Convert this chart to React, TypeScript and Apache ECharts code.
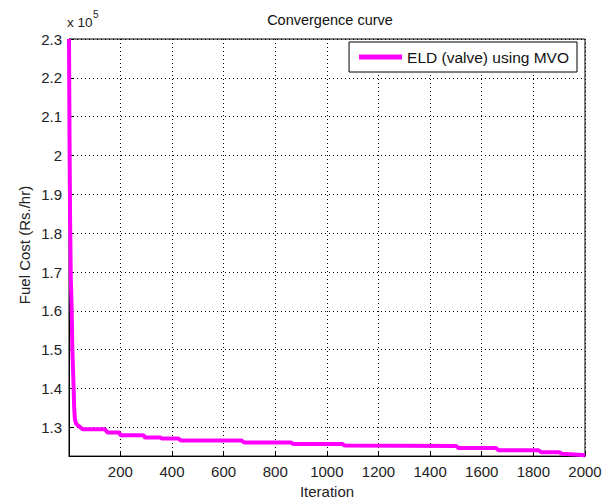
import React, { useEffect, useRef } from "react";
import * as echarts from "echarts";

const iterations = [1, 3, 5, 8, 11, 14, 17, 19, 21, 24, 28, 35, 45, 55, 140, 150, 195, 200, 290, 295, 355, 360, 425, 435, 670, 680, 860, 870, 1060, 1070, 1500, 1510, 1655, 1665, 1820, 1830, 1900, 1910, 1990, 2000];
const fuelCost = [230000, 205000, 185000, 168000, 162000, 150000, 144000, 140000, 135000, 132000, 131000, 130500, 130000, 129500, 129500, 128700, 128700, 128000, 128000, 127400, 127400, 127100, 127100, 126600, 126600, 126100, 126100, 125700, 125700, 125300, 125200, 124700, 124700, 124100, 124100, 123600, 123600, 123200, 122900, 122700];

const xTicks = [200, 400, 600, 800, 1000, 1200, 1400, 1600, 1800, 2000];
const yTicks = [130000, 140000, 150000, 160000, 170000, 180000, 190000, 200000, 210000, 220000, 230000];

const seriesName = "ELD (valve) using MVO";
const titleText = "Convergence curve";
const xName = "Iteration";
const yName = "Fuel Cost (Rs./hr)";
const scaleText = "x 10";
const scaleExp = "5";

const FONT = "'Liberation Sans', Arial, sans-serif";

export default function App() {
  const ref = useRef<HTMLDivElement>(null);
  useEffect(() => {
    if (!ref.current) return;
    const chart = echarts.init(ref.current, undefined, { renderer: "svg" });
    const gridLine = { show: true, lineStyle: { color: "#000", type: [1, 3], width: 1 } };
    const axisLine = { show: true, lineStyle: { color: "#000", width: 1 } };
    const tickX = { show: true, inside: true, length: 5, lineStyle: { color: "#000" }, customValues: xTicks };
    const tickY = { show: true, inside: true, length: 5, lineStyle: { color: "#000" }, customValues: yTicks };
    const label = { color: "#222", fontFamily: FONT, fontSize: 15, hideOverlap: false };
    chart.setOption({
      animation: false,
      backgroundColor: "#fff",
      title: {
        text: titleText,
        left: 325,
        top: 7,
        textAlign: "center",
        textStyle: { fontFamily: FONT, fontSize: 14.5, fontWeight: "normal", color: "#111" },
      },
      legend: {
        data: [{ name: seriesName, icon: "rect" }],
        right: 31,
        top: 42,
        itemWidth: 43,
        itemHeight: 5,
        padding: [7, 8, 7, 10],
        backgroundColor: "#fff",
        borderColor: "#000",
        borderWidth: 1,
        borderRadius: 0,
        textStyle: { fontFamily: FONT, fontSize: 15.5, color: "#111" },
      },
      graphic: [
        { type: "text", left: 67, top: 15, style: { text: scaleText, fontFamily: FONT, fontSize: 13.5, fill: "#222" } },
        { type: "text", left: 93, top: 9, style: { text: scaleExp, fontFamily: FONT, fontSize: 10, fill: "#222" } },
        {
          type: "text",
          x: 24,
          y: 245,
          rotation: Math.PI / 2,
          style: { text: yName, fontFamily: FONT, fontSize: 15, fill: "#222", align: "center", verticalAlign: "middle" },
        },
      ],
      grid: { left: 69, right: 23, top: 39, bottom: 44, show: true, borderColor: "#000", borderWidth: 1, backgroundColor: "transparent" },
      xAxis: {
        type: "value",
        min: 1,
        max: 2000,
        name: xName,
        nameLocation: "middle",
        nameGap: 27,
        nameTextStyle: { fontFamily: FONT, fontSize: 15, color: "#222" },
        axisLine,
        axisTick: tickX,
        axisLabel: { ...label, margin: 8, customValues: xTicks, formatter: (v: number) => String(v) },
        splitLine: gridLine,
      },
      yAxis: {
        type: "value",
        min: 122600,
        max: 230000,
        axisLine,
        axisTick: tickY,
        axisLabel: {
          ...label,
          margin: 7,
          customValues: yTicks,
          formatter: (v: number) => (v / 1e5).toFixed(1).replace(/\.0$/, ""),
        },
        splitLine: gridLine,
      },
      series: [
        {
          name: seriesName,
          type: "line",
          data: iterations.map((it, i) => [it, fuelCost[i]]),
          showSymbol: false,
          symbol: "none",
          lineStyle: { color: "#ff00ff", width: 4 },
          itemStyle: { color: "#ff00ff" },
          clip: true,
        },
      ],
    });
    return () => chart.dispose();
  }, []);
  return (
    <div
      ref={ref}
      style={{ position: "fixed", left: 0, top: 0, width: 608, height: 504, background: "#fff" }}
    />
  );
}
